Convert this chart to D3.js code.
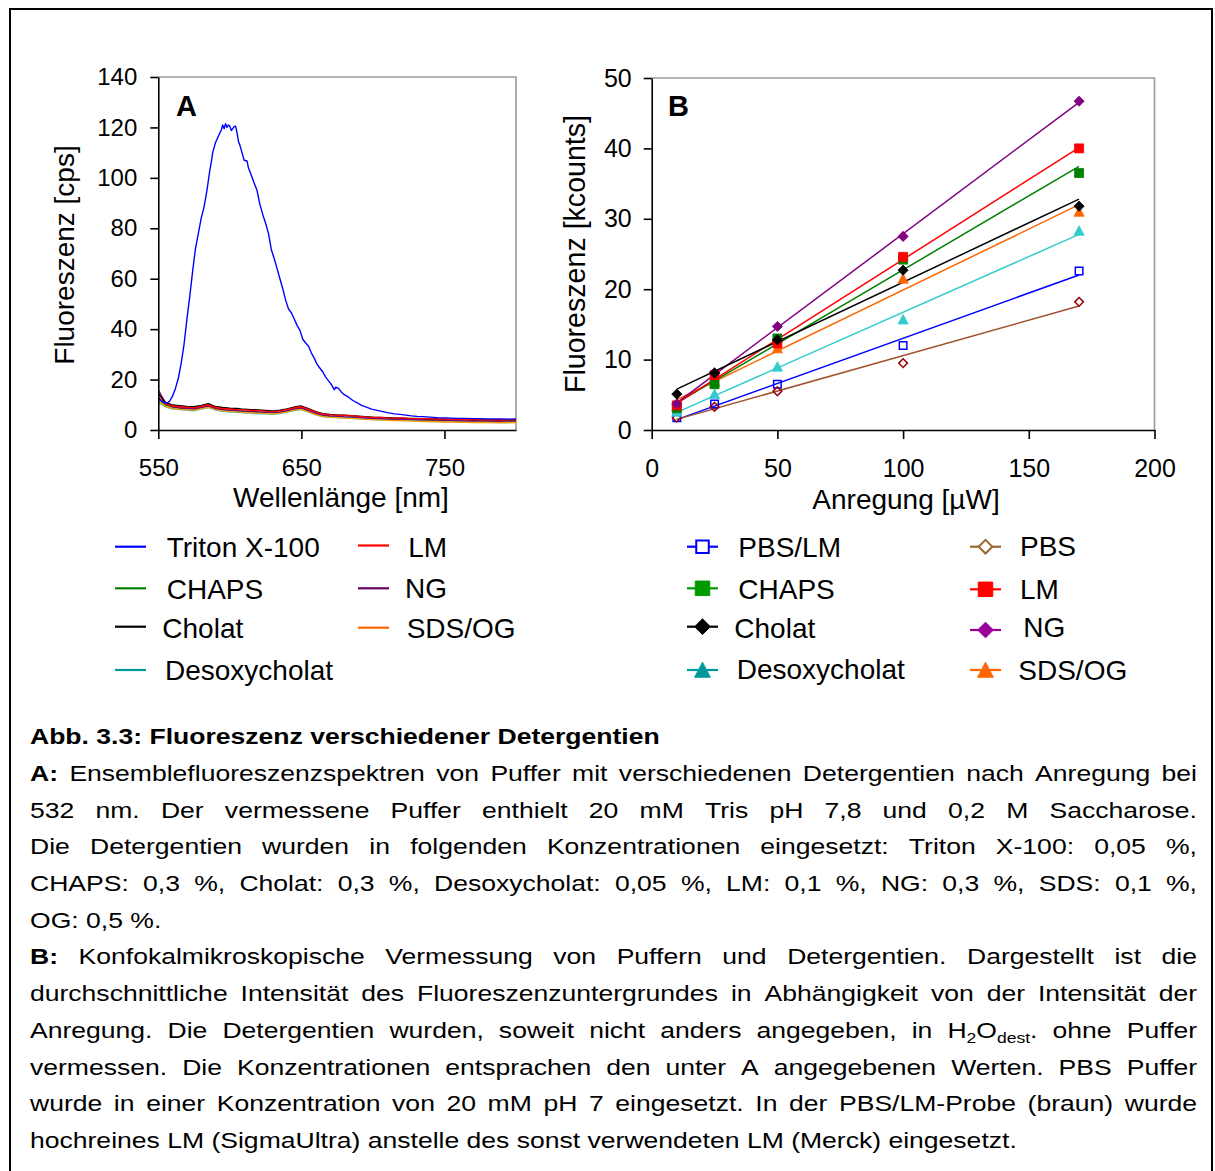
<!DOCTYPE html>
<html><head><meta charset="utf-8">
<script src="https://cdn.jsdelivr.net/npm/d3@7"></script>
<style>
html,body{margin:0;padding:0;background:#fff;}
svg{display:block;font-family:"Liberation Sans",Arial,Helvetica,sans-serif;}
</style></head><body>
<svg id="fig" width="1215" height="1171"></svg>
<script>
// ---------- Panel A: emission spectra ----------
const tritonNm = [550,553,556,558,560,562,564,566,568,570,572,574,576,578,580,582,584,586,587,588,590,592,594,595,596,597,598,599,600,601,602,603,604,605,606,607,609,610,612,613,615,617,619,621,623,625,627,629,631,633,635,637,639,641,643,645,647,649,651,653,655,657,659,661,663,665,667,669,671,673,674,676,678,680,683,686,689,692,695,699,703,707,711,715,719,723,727,731,735,740,745,750,755,760,765,770,775,780,785,790,795,800];
const tritonCps = [12.5,11.2,10.6,11.5,13.5,16.5,20.5,26.5,34,44,53,63,72,78,84,88.5,95,103,106,110,114,116.5,119,121,119.5,121.5,120,121,120.5,118.8,119.5,120.3,120.5,118,114.5,113,109,107,106.7,104,101,98,95,89.5,85.5,82,78,71.5,68,64,60,56,51.5,48,46.5,44,41.5,39.5,36,34.5,33.2,30.5,28.5,26,24.5,23,21,19.5,18,16,17,16.5,15,14,13,11.7,10.8,9.8,9.2,8.3,7.8,7.3,6.8,6.4,6.2,5.9,5.6,5.4,5.3,5.1,4.9,4.8,4.7,4.6,4.6,4.5,4.5,4.4,4.4,4.4,4.3,4.4];

const bgNm = [550,555,560,565,570,575,580,585,590,595,600,605,610,615,620,625,630,635,640,645,650,655,660,665,670,675,680,685,690,695,700,705,710,715,720,725,730,735,740,745,750,755,760,765,770,775,780,785,790,795,800];
const chapsCps  = [12.4,9.9,9.0,8.7,8.5,8.3,8.9,9.5,8.5,8.0,7.8,7.6,7.4,7.2,7.1,7.0,6.8,7.1,7.6,8.3,8.6,7.6,6.5,5.7,5.4,5.3,5.1,5.0,4.8,4.6,4.5,4.4,4.3,4.1,4.1,4.0,3.9,3.9,3.8,3.7,3.7,3.6,3.6,3.5,3.5,3.5,3.4,3.4,3.4,3.4,3.4];
const desoxyCps = [11.0,9.2,8.3,8.1,7.8,7.6,8.3,8.9,7.9,7.4,7.1,7.0,6.8,6.6,6.4,6.4,6.2,6.5,7.1,7.7,8.1,7.1,6.0,5.3,5.1,4.9,4.8,4.7,4.4,4.3,4.1,4.0,3.9,3.8,3.7,3.7,3.6,3.5,3.4,3.4,3.3,3.3,3.2,3.2,3.1,3.1,3.1,3.0,3.1,3.0,3.1];
const sdsOgCps  = [11.4,9.4,8.6,8.2,8.0,7.9,8.4,9.1,8.1,7.6,7.3,7.2,6.9,6.8,6.7,6.5,6.4,6.7,7.2,7.9,8.2,7.2,6.1,5.3,5.0,4.9,4.7,4.6,4.4,4.2,4.1,4.0,3.8,3.7,3.7,3.6,3.5,3.4,3.4,3.3,3.2,3.2,3.1,3.1,3.0,3.1,3.0,3.0,2.9,3.0,3.0];
const ngCps     = [15.8,10.8,9.2,8.8,8.6,8.4,9.0,9.6,8.6,8.1,7.9,7.7,7.5,7.4,7.2,7.1,7.0,7.2,7.7,8.4,8.8,7.8,6.7,5.9,5.6,5.5,5.3,5.2,5.0,4.8,4.6,4.5,4.4,4.3,4.2,4.2,4.1,4.0,4.0,3.9,3.8,3.8,3.7,3.6,3.7,3.6,3.6,3.5,3.5,3.6,3.6];
const cholatCps = [14.4,10.9,9.9,9.6,9.3,9.2,9.7,10.4,9.3,8.9,8.6,8.5,8.2,8.1,8.0,7.8,7.6,7.9,8.4,9.1,9.5,8.5,7.3,6.5,6.2,6.0,5.9,5.7,5.5,5.3,5.1,5.0,4.9,4.8,4.7,4.6,4.6,4.5,4.4,4.4,4.3,4.2,4.3,4.2,4.1,4.1,4.0,4.1,4.0,4.0,4.0];
const lmCps     = [13.0,10.4,9.5,9.2,9.0,8.8,9.4,10.0,9.0,8.5,8.3,8.1,8.0,7.8,7.7,7.5,7.4,7.6,8.2,8.8,9.2,8.3,7.1,6.3,6.0,5.9,5.8,5.7,5.4,5.2,5.0,5.0,4.8,4.7,4.8,4.6,4.5,4.5,4.4,4.3,4.3,4.2,4.2,4.1,4.2,4.1,4.0,4.0,3.9,4.0,4.0];

const ticksAx = [550,650,750];
const ticksAy = [0,20,40,60,80,100,120,140];

// ---------- Panel B: background vs. excitation power ----------
const powerUW  = [10,25,50,100,170];
const pbsLmK   = [1.75,3.7,6.5,12.0,22.6];
const pbsK     = [1.75,3.3,5.5,9.5,18.2];
const chapsK   = [3.1,6.5,13.0,24.2,36.5];
const lmK      = [3.5,7.8,12.3,24.6,40.0];
const cholatK  = [5.1,8.1,12.8,22.7,31.8];
const ngK      = [3.7,8.1,14.7,27.5,46.7];
const desoxyK  = [2.6,5.1,9.0,15.7,28.3];
const sdsOgK   = [3.3,6.9,11.6,21.5,31.0];

const ticksBx = [0,50,100,150,200];
const ticksBy = [0,10,20,30,40,50];

const svg = d3.select("#fig");
const FONT = '"Liberation Sans",Arial,Helvetica,sans-serif';

// outer frame
svg.append("rect").attr("x",10).attr("y",9).attr("width",1202).attr("height",1200)
  .attr("fill","none").attr("stroke","#000").attr("stroke-width",2);

// ===== Panel A =====
const xA = d3.scaleLinear().domain([550,800]).range([158.3,516]);
const yA = d3.scaleLinear().domain([0,140]).range([430,77]);

svg.append("defs").append("clipPath").attr("id","clipA")
  .append("rect").attr("x",158.3).attr("y",77).attr("width",516-158.3).attr("height",430-77);

// plot frame (top/right grey)
svg.append("path").attr("d",`M158.3,77H516V430`).attr("fill","none").attr("stroke","#9a9a9a").attr("stroke-width",1.6);

const specA = [
  {name:"CHAPS", color:"#008000", v:chapsCps},
  {name:"Desoxycholat", color:"#33cccc", v:desoxyCps},
  {name:"SDS/OG", color:"#ff9900", v:sdsOgCps},
  {name:"NG", color:"#800080", v:ngCps},
  {name:"Cholat", color:"#000000", v:cholatCps},
  {name:"LM", color:"#ff0000", v:lmCps}
];
const lineA = d3.line().x(d=>xA(d[0])).y(d=>yA(d[1]));
const gA = svg.append("g").attr("clip-path","url(#clipA)");
specA.forEach(s=>{
  gA.append("path").attr("d",lineA(bgNm.map((n,i)=>[n,s.v[i]])))
    .attr("fill","none").attr("stroke",s.color).attr("stroke-width",1.4).attr("stroke-linejoin","round");
});
gA.append("path").attr("d",lineA(tritonNm.map((n,i)=>[n,tritonCps[i]])))
  .attr("fill","none").attr("stroke","#0000ff").attr("stroke-width",1.4).attr("stroke-linejoin","round");

const axAy = svg.append("g").attr("transform","translate(158.3,0)")
  .call(d3.axisLeft(yA).tickValues(ticksAy).tickSize(8).tickSizeOuter(0).tickPadding(13));
const axAx = svg.append("g").attr("transform","translate(0,430)")
  .call(d3.axisBottom(xA).tickValues(ticksAx).tickSize(9).tickSizeOuter(0).tickPadding(20));

// ===== Panel B =====
const xB = d3.scaleLinear().domain([0,200]).range([651.7,1154.5]);
const yB = d3.scaleLinear().domain([0,50]).range([430,78]);

svg.append("path").attr("d",`M651.7,78H1154.5V430`).attr("fill","none").attr("stroke","#9a9a9a").attr("stroke-width",1.6);

const seriesB = [
  {name:"PBS/LM", v:pbsLmK, line:"#0000ff", fill:"none", stroke:"#0000ff", shape:"square"},
  {name:"PBS", v:pbsK, line:"#a0522d", fill:"none", stroke:"#990000", shape:"diamond"},
  {name:"Desoxycholat", v:desoxyK, line:"#33cccc", fill:"#33cccc", stroke:"#33cccc", shape:"triangle"},
  {name:"SDS/OG", v:sdsOgK, line:"#ff6600", fill:"#ff6600", stroke:"#ff6600", shape:"triangle"},
  {name:"CHAPS", v:chapsK, line:"#008000", fill:"#008000", stroke:"#008000", shape:"square"},
  {name:"LM", v:lmK, line:"#ff0000", fill:"#ff0000", stroke:"#ff0000", shape:"square"},
  {name:"NG", v:ngK, line:"#800080", fill:"#800080", stroke:"#800080", shape:"diamond"},
  {name:"Cholat", v:cholatK, line:"#000000", fill:"#000000", stroke:"#000000", shape:"diamond"}
];

// least-squares trend line for each series
function fit(xs, ys){
  const mx=d3.mean(xs), my=d3.mean(ys);
  const sxy=d3.sum(xs,(x,i)=>(x-mx)*(ys[i]-my)), sxx=d3.sum(xs,x=>(x-mx)*(x-mx));
  const m=sxy/sxx; return {m, b:my-m*mx};
}
function markerPath(shape, s){
  const h=s/2;
  if(shape==="square") return `M${-h},${-h}H${h}V${h}H${-h}Z`;
  if(shape==="diamond") return `M0,${-h-0.6}L${h+0.6},0L0,${h+0.6}L${-h-0.6},0Z`;
  return `M0,${-h-0.5}L${h+0.6},${h}L${-h-0.6},${h}Z`;
}
const x0 = d3.min(powerUW), x1 = d3.max(powerUW);
seriesB.forEach(s=>{
  const f = fit(powerUW, s.v);
  svg.append("line").attr("x1",xB(x0)).attr("y1",yB(f.m*x0+f.b))
    .attr("x2",xB(x1)).attr("y2",yB(f.m*x1+f.b))
    .attr("stroke",s.line).attr("stroke-width",1.5);
});
seriesB.forEach(s=>{
  svg.append("g").selectAll("path").data(powerUW).join("path")
    .attr("transform",(d,i)=>`translate(${xB(d)},${yB(s.v[i])})`)
    .attr("d",markerPath(s.shape, s.fill==="none"?7.5:9))
    .attr("fill",s.fill).attr("stroke",s.stroke).attr("stroke-width",s.fill==="none"?1.5:0.8);
});

const axBy = svg.append("g").attr("transform","translate(651.7,0)")
  .call(d3.axisLeft(yB).tickValues(ticksBy).tickSize(8).tickSizeOuter(0).tickPadding(12));
const axBx = svg.append("g").attr("transform","translate(0,430)")
  .call(d3.axisBottom(xB).tickValues(ticksBx).tickSize(9).tickSizeOuter(0).tickPadding(20));

[axAy,axAx,axBy,axBx].forEach(a=>{
  a.attr("font-family",FONT).attr("font-size",24);
  a.selectAll("text").attr("fill","#000");
  a.selectAll("line").attr("stroke","#000").attr("stroke-width",1.6);
  a.select(".domain").attr("stroke","#000").attr("stroke-width",1.6);
});
[axBy,axBx].forEach(a=>a.attr("font-size",25));

// axis titles and panel letters
function txt(x,y,s,opts={}){
  const t=svg.append("text").attr("x",x).attr("y",y).text(s)
    .attr("font-size",opts.size||27).attr("fill","#000");
  if(opts.anchor) t.attr("text-anchor",opts.anchor);
  if(opts.weight) t.attr("font-weight",opts.weight);
  if(opts.rotate) t.attr("transform",`rotate(-90,${x},${y})`).attr("dy","0.35em");
  return t;
}
txt(64,255,"Fluoreszenz [cps]",{anchor:"middle",rotate:true,size:28});
txt(341,507,"Wellenlänge [nm]",{anchor:"middle",size:28});
txt(575,254,"Fluoreszenz [kcounts]",{anchor:"middle",rotate:true,size:28.6});
txt(906,509,"Anregung [µW]",{anchor:"middle",size:28});
txt(176,116,"A",{size:29,weight:"bold"});
txt(668,116,"B",{size:29,weight:"bold"});

// ===== Legend A =====
const legendA = [
  {name:"Triton X-100", color:"#0000ff", lx:115, ly:546.7, tx:166.7, ty:556.7},
  {name:"CHAPS", color:"#008000", lx:115, ly:588.3, tx:166.7, ty:599},
  {name:"Cholat", color:"#000000", lx:115, ly:626.7, tx:162.3, ty:638.3},
  {name:"Desoxycholat", color:"#009999", lx:115, ly:670, tx:165, ty:680},
  {name:"LM", color:"#ff0000", lx:358, ly:545.5, tx:408.3, ty:556.7},
  {name:"NG", color:"#660066", lx:358, ly:588.3, tx:405, ty:598.3},
  {name:"SDS/OG", color:"#ff6600", lx:358, ly:627.7, tx:406.7, ty:638.3}
];
legendA.forEach(d=>{
  svg.append("line").attr("x1",d.lx).attr("x2",d.lx+31).attr("y1",d.ly).attr("y2",d.ly)
    .attr("stroke",d.color).attr("stroke-width",2.2);
  txt(d.tx,d.ty,d.name,{size:28});
});

// ===== Legend B =====
const legendB = [
  {name:"PBS/LM", color:"#0000ff", fill:"none", shape:"square", lx:687, ly:546.7, tx:738.3, ty:556.7},
  {name:"CHAPS", color:"#009900", fill:"#009900", shape:"square", lx:687, ly:588.3, tx:738.3, ty:599},
  {name:"Cholat", color:"#000000", fill:"#000000", shape:"diamond", lx:687, ly:626.7, tx:734.3, ty:638.3},
  {name:"Desoxycholat", color:"#009999", fill:"#009999", shape:"triangle", lx:687, ly:670, tx:736.7, ty:679.3},
  {name:"PBS", color:"#996633", fill:"none", shape:"diamond", lx:970, ly:546.7, tx:1020, ty:556},
  {name:"LM", color:"#ff0000", fill:"#ff0000", shape:"square", lx:970, ly:589.3, tx:1020, ty:599},
  {name:"NG", color:"#990099", fill:"#990099", shape:"diamond", lx:970, ly:630, tx:1023.3, ty:636.7},
  {name:"SDS/OG", color:"#ff6600", fill:"#ff6600", shape:"triangle", lx:970, ly:670, tx:1018.3, ty:680}
];
legendB.forEach(d=>{
  svg.append("line").attr("x1",d.lx).attr("x2",d.lx+31).attr("y1",d.ly).attr("y2",d.ly)
    .attr("stroke",d.color).attr("stroke-width",2.2);
  svg.append("path").attr("transform",`translate(${d.lx+15.5},${d.ly})`)
    .attr("d",markerPath(d.shape, d.fill==="none"?12.5:14.5))
    .attr("fill",d.fill==="none"?"#fff":d.fill).attr("stroke",d.color).attr("stroke-width",d.fill==="none"?2:1);
  txt(d.tx,d.ty,d.name,{size:28});
});

// ===== Caption =====
const captionLines = [
  {lead:"", text:"Abb. 3.3: Fluoreszenz verschiedener Detergentien", bold:true, justify:false},
  {lead:"A:", text:"Ensemblefluoreszenzspektren von Puffer mit verschiedenen Detergentien nach Anregung bei", justify:true},
  {lead:"", text:"532 nm. Der vermessene Puffer enthielt 20 mM Tris pH 7,8 und 0,2 M Saccharose.", justify:true},
  {lead:"", text:"Die Detergentien wurden in folgenden Konzentrationen eingesetzt: Triton X-100: 0,05 %,", justify:true},
  {lead:"", text:"CHAPS: 0,3 %, Cholat: 0,3 %, Desoxycholat: 0,05 %, LM: 0,1 %, NG: 0,3 %, SDS: 0,1 %,", justify:true},
  {lead:"", text:"OG: 0,5 %.", justify:false},
  {lead:"B:", text:"Konfokalmikroskopische Vermessung von Puffern und Detergentien. Dargestellt ist die", justify:true},
  {lead:"", text:"durchschnittliche Intensität des Fluoreszenzuntergrundes in Abhängigkeit von der Intensität der", justify:true},
  {lead:"", text:"Anregung. Die Detergentien wurden, soweit nicht anders angegeben, in H{2}O{dest}. ohne Puffer", justify:true},
  {lead:"", text:"vermessen. Die Konzentrationen entsprachen den unter A angegebenen Werten. PBS Puffer", justify:true},
  {lead:"", text:"wurde in einer Konzentration von 20 mM pH 7 eingesetzt. In der PBS/LM-Probe (braun) wurde", justify:true},
  {lead:"", text:"hochreines LM (SigmaUltra) anstelle des sonst verwendeten LM (Merck) eingesetzt.", justify:false}
];
const CAP_SIZE = 22.5, CAP_SX = 1.18, CAP_LEFT = 30, CAP_RIGHT = 1197;
const capG = svg.append("g").attr("transform",`translate(${CAP_LEFT},0) scale(${CAP_SX},1)`)
  .attr("font-size",CAP_SIZE).attr("fill","#000");
const innerW = (CAP_RIGHT-CAP_LEFT)/CAP_SX;
captionLines.forEach((ln,i)=>{
  const y = 744.3 + 36.7*i;
  const words = [];
  if(ln.lead) words.push({w:ln.lead, bold:true});
  ln.text.split(" ").forEach(w=>words.push({w, bold:!!ln.bold}));
  const nodes = words.map(wd=>{
    const t = capG.append("text").attr("x",0).attr("y",y);
    if(wd.bold) t.attr("font-weight","bold");
    const parts = wd.w.split(/(\{[^}]*\})/).filter(p=>p.length);
    let shifted=false;
    parts.forEach(p=>{
      if(p[0]==="{"){
        const ts=t.append("tspan").text(p.slice(1,-1)).attr("font-size",CAP_SIZE*0.66);
        if(!shifted){ts.attr("dy",5); shifted=true;}
      } else {
        const ts=t.append("tspan").text(p);
        if(shifted){ts.attr("dy",-5); shifted=false;}
      }
    });
    return t;
  });
  const widths = nodes.map(n=>n.node().getComputedTextLength());
  const total = d3.sum(widths);
  const gap = ln.justify && nodes.length>1 ? (innerW-total)/(nodes.length-1) : CAP_SIZE*0.278;
  let x=0;
  nodes.forEach((n,k)=>{ n.attr("x",x); x+=widths[k]+gap; });
});
</script>
</body></html>
